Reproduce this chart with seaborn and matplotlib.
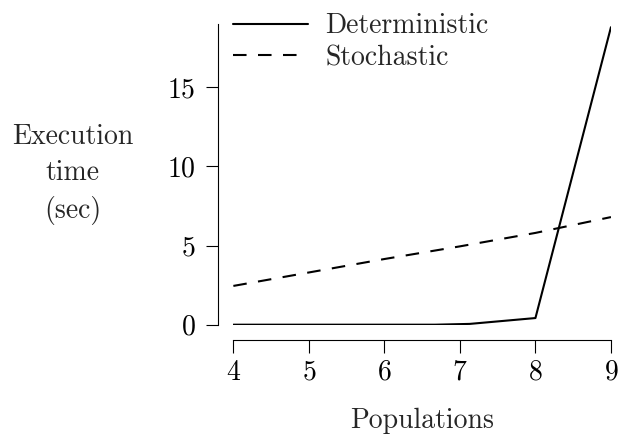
import matplotlib
matplotlib.use("Agg")
import matplotlib.pyplot as plt
import pandas as pd
import seaborn as sns

populations = [4, 5, 6, 6.67, 7.13, 8, 9]
deterministic = [0.0, 0.0, 0.0, 0.0, 0.05, 0.42, 18.8]
stoch_populations = [4, 5, 6, 7, 8, 9]
stochastic = [2.45, 3.3, 4.15, 4.95, 5.8, 6.8]

det = pd.DataFrame({"populations": populations, "time": deterministic})
sto = pd.DataFrame({"populations": stoch_populations, "time": stochastic})

sns.set_theme(style="ticks")
plt.rcParams["font.family"] = ["cmr10", "DejaVu Serif"]
plt.rcParams["mathtext.fontset"] = "cm"
plt.rcParams["axes.formatter.use_mathtext"] = True

fs = 20

fig, ax = plt.subplots(figsize=(6.19, 4.37), dpi=100)
sns.lineplot(data=det, x="populations", y="time", ax=ax, color="black",
             linewidth=1.5, label="Deterministic")
sns.lineplot(data=sto, x="populations", y="time", ax=ax, color="black",
             linewidth=1.5, linestyle=(0, (6.5, 5.5)), label="Stochastic")

ax.set_xlim(4, 9)
ax.set_ylim(0, 19)
ax.set_xticks([4, 5, 6, 7, 8, 9])
ax.set_yticks([0, 5, 10, 15])
ax.tick_params(labelsize=fs, length=9, width=0.8, colors="black")
ax.tick_params(axis="x", pad=5)
ax.tick_params(axis="y", pad=7)
for s in ax.spines.values():
    s.set_linewidth(0.8)
    s.set_color("black")
sns.despine(ax=ax, offset=11)

ax.set_xlabel("Populations", fontsize=fs, labelpad=16)
ax.set_ylabel("Execution\ntime\n(sec)", fontsize=fs, rotation=0,
              ha="center", va="center", labelpad=0, linespacing=1.45)
ax.yaxis.set_label_coords(-0.425, 0.5)

leg = ax.legend(loc="upper left", frameon=False, fontsize=fs,
                handlelength=2.7, handletextpad=0.61, borderaxespad=0,
                borderpad=0, labelspacing=0.2, bbox_to_anchor=(0.0, 1.037))

plt.subplots_adjust(left=0.377, right=0.987, top=0.945, bottom=0.257)
fig.savefig("out.png", dpi=100)
